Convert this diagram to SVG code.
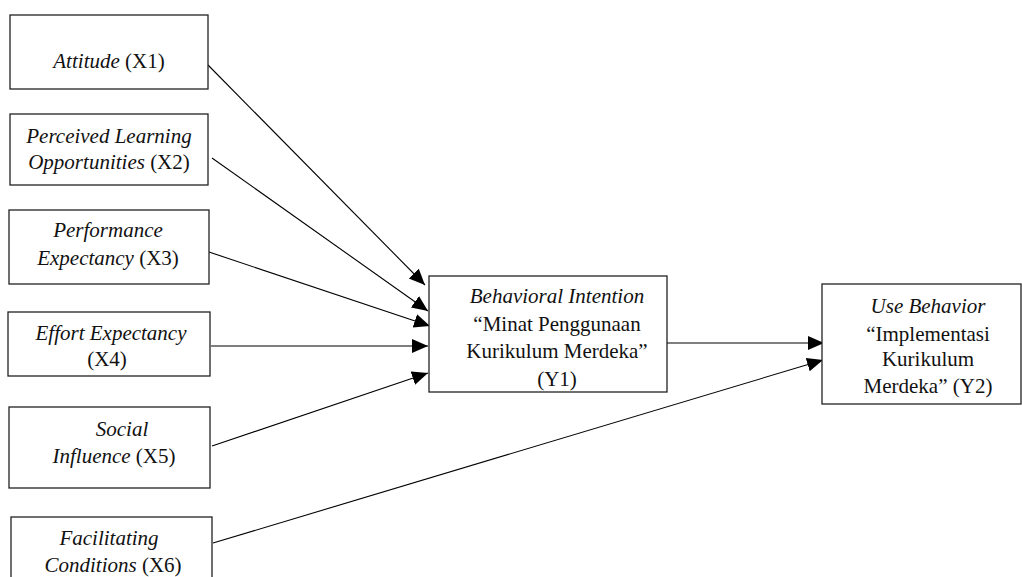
<svg xmlns="http://www.w3.org/2000/svg" width="1022" height="577" viewBox="0 0 1022 577">
<style>
.box{fill:#fff;stroke:#222;stroke-width:1.3}
text{font-family:"Liberation Serif","Times New Roman",serif;font-size:21px;fill:#111;text-anchor:middle}
.i{font-style:italic}
.edge{stroke:#000;stroke-width:1.1;fill:none;marker-end:url(#ah)}
</style>
<defs>
<marker id="ah" markerUnits="userSpaceOnUse" markerWidth="18" markerHeight="16" refX="16" refY="7" orient="auto">
<path d="M0,0 L16,7 L0,14 Z" fill="#000"/>
</marker>
</defs>
<rect width="1022" height="577" fill="#fff"/>
<g id="connectors">
<line class="edge" x1="208" y1="65" x2="425" y2="285"/>
<line class="edge" x1="212" y1="158" x2="428" y2="311"/>
<line class="edge" x1="206" y1="251" x2="430" y2="326"/>
<line class="edge" x1="211" y1="346" x2="428" y2="346"/>
<line class="edge" x1="212" y1="446" x2="428" y2="373"/>
<line class="edge" x1="213" y1="543" x2="823" y2="360"/>
<line class="edge" x1="667" y1="343" x2="824" y2="343"/>
</g>
<g id="x1">
<rect class="box" x="10" y="15" width="198" height="74"/>
<text x="109" y="68"><tspan class="i">Attitude</tspan> (X1)</text>
</g>
<g id="x2">
<rect class="box" x="10" y="114" width="198" height="71"/>
<text x="109" y="143" class="i">Perceived Learning</text>
<text x="109" y="169"><tspan class="i">Opportunities</tspan> (X2)</text>
</g>
<g id="x3">
<rect class="box" x="9" y="210" width="200" height="74"/>
<text x="108" y="237" class="i">Performance</text>
<text x="108" y="265"><tspan class="i">Expectancy</tspan> (X3)</text>
</g>
<g id="x4">
<rect class="box" x="8" y="312" width="202" height="64"/>
<text x="111" y="340" class="i">Effort Expectancy</text>
<text x="107" y="366">(X4)</text>
</g>
<g id="x5">
<rect class="box" x="9" y="407" width="201" height="81"/>
<text x="122" y="436" class="i">Social</text>
<text x="114" y="463"><tspan class="i">Influence</tspan> (X5)</text>
</g>
<g id="x6">
<rect class="box" x="11" y="517" width="201" height="70"/>
<text x="109" y="545" class="i">Facilitating</text>
<text x="113" y="572"><tspan class="i">Conditions</tspan> (X6)</text>
</g>
<g id="y1">
<rect class="box" x="429" y="276" width="238" height="116"/>
<text x="557" y="303" class="i">Behavioral Intention</text>
<text x="557" y="331">“Minat Penggunaan</text>
<text x="557" y="358">Kurikulum Merdeka”</text>
<text x="557" y="386">(Y1)</text>
</g>
<g id="y2">
<rect class="box" x="822" y="284" width="199" height="120"/>
<text x="928" y="313" class="i">Use Behavior</text>
<text x="928" y="341">“Implementasi</text>
<text x="928" y="366">Kurikulum</text>
<text x="928" y="393">Merdeka” (Y2)</text>
</g>
</svg>
